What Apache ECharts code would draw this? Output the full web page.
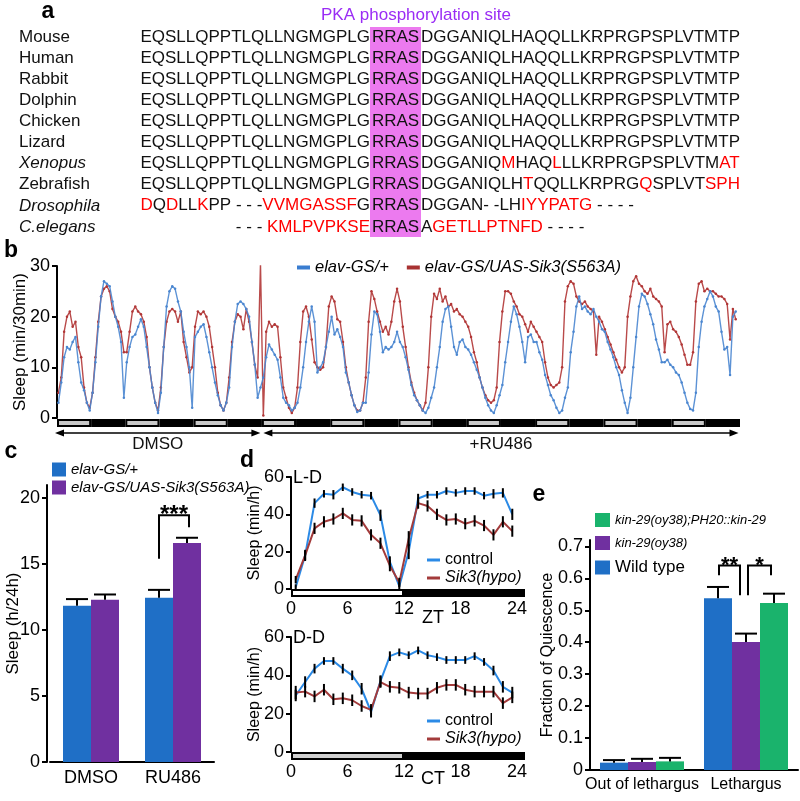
<!DOCTYPE html>
<html><head><meta charset="utf-8">
<script src="https://cdn.jsdelivr.net/npm/echarts@6/dist/echarts.min.js"></script>
<style>html,body{margin:0;padding:0;background:#fff}#c{width:800px;height:801px}</style>
</head><body><div id="c"></div><script>
const FONT = '"Liberation Sans", Arial, Helvetica, sans-serif';

// ---------- Panel a : alignment ----------
const species = ['Mouse','Human','Rabbit','Dolphin','Chicken','Lizard','Xenopus','Zebrafish','Drosophila','C.elegans'];
const speciesItalic = [false,false,false,false,false,false,true,false,true,true];
const seqBefore = [
  'EQSLLQPPTLQLLNGMGPLG','EQSLLQPPTLQLLNGMGPLG','EQSLLQPPTLQLLNGMGPLG','EQSLLQPPTLQLLNGMGPLG',
  'EQSLLQPPTLQLLNGMGPLG','EQSLLQPPTLQLLNGMGPLG','EQSLLQPPTLQLLNGMGPLG','EQSLLQPPTLQLLNGMGPLG',
  '[D]Q[D]LL[K]PP - - -[VVMGASSF]G','- - - [KMLPVPKSE]'
];
const seqSite = ['RRAS','RRAS','RRAS','RRAS','RRAS','RRAS','RRAS','RRAS','RRAS','RRAS'];
const seqAfter = [
  'DGGANIQLHAQQLLKRPRGPSPLVTMTP','DGGANIQLHAQQLLKRPRGPSPLVTMTP','DGGANIQLHAQQLLKRPRGPSPLVTMTP',
  'DGGANIQLHAQQLLKRPRGPSPLVTMTP','DGGANIQLHAQQLLKRPRGPSPLVTMTP','DGGANIQLHAQQLLKRPRGPSPLVTMTP',
  'DGGANIQ[M]HAQ[L]LLKRPRGPSPLVTM[AT]','DGGANIQLH[T]QQLLKRPRG[Q]SPLVT[SPH]',
  'DGGAN- -LH[IYYPATG] - - - -','A[GETLLPTNFD] - - - -'
];
const siteTitle = 'PKA phosphorylation site';

// ---------- Panel b : hourly sleep (min/30min) over 10 days ----------
const bControl = [
  3,7,12,14,13.5,15,16,11,7,5.5,3,1.5, 5,11,18,24,27,26.5,26,23,20,18,15,4,
  11,14,16,16.5,18,19.5,18,14,10,6,3,1, 5,14,22,25,26,25.5,23,21,17,14,10,2,
  16,17,18,18.5,16,13,10,7,4.5,2.5,1.5,3, 6,14,19,22.5,23,22.5,21.5,20,15,10.5,4,6,
  8,12,14.5,13.5,12.5,11.5,8,4,3,2.5,1.5,2, 3,6,10,15,19,22,19,9,10,11,14,17,
  20,16.5,17.5,16,14,9,7,4.5,2.5,1.2,1.5,3, 3,9,16.5,21,20.5,17,13,14,13.5,14,15,17,
  15,14,12,9.5,6.5,4.5,3.5,2.5,1.5,1,2,4, 6,10,14,19,21.5,22,18,14,12.5,15,15.5,14,
  13.5,12.5,11,9.5,8,6,4,2.5,1.5,1,2.5,4.5, 6.5,11,15,19,22,20.5,18,15,11,16,16.5,15,
  15,13,11.5,8.5,6.5,4.5,3.5,2,1,1.5,4,6, 13,17,22,24,21.5,22,21,20.5,21.5,20,19,17.5,
  17,15,13.5,12,10,8.5,5.5,3,1,4,10,16, 22,24.5,24,22.5,20.5,18.5,15.5,13.5,11,11,11.5,10.5,
  10,9,8.5,7,5,3,1.8,1.5,5,14,19,22, 23.5,25,24,22,21,17,13.5,14,8.5,20,21,null
];
const bS563A = [
  5,8,17,20,21,18,19,14,12,6,3,2, 5,12,19,24,25.5,26,25,21.5,20,19,17,13,
  13,17,21,22,21,20.5,19,16,10,6,3,1.5, 6,14,19,21,21.5,21,19,21,15,12,9,10,
  18,21,20.5,21,20,18,14,10,5,2.5,1.5,3, 8,15,19,20.5,20,17.5,21.5,19,15,10.5,8,30.5,
  0.5,17,19,18,18.5,18,12,6,4,2,1,2, 6,15,21,22,20,15.5,11,10,9.5,10,14,22,
  24,23,19.5,19,15,10,7,4.5,2.5,1.5,1.5,3, 8,19,25,23.5,21,19,17,18,16.5,19,23,25.5,
  23,18,14,10,7,5,3.5,2.5,1.5,3,10,20, 24.5,23.5,25.5,23,24,22,22.5,21,21.5,20.5,20,19,
  18,16,13,11,8,6,4.5,3.5,3,3.5,6,15, 21,25,25,24.5,23,22,20.5,20,18.5,17,19,18,
  17,16,15,11,8,6.5,6,6.5,7,10,23,26, 27,26.5,24,23,22.5,23,22,21.5,21,12.5,20,19,
  17.5,16,14.5,13,11.5,10,9,10,20,24,27,28, 26.5,26,25,24.5,25.5,24,23.5,23,22,13,18.5,19,
  17.5,17,16,14.5,12.5,10.5,10.5,13,23,26.5,27,25, 25.5,25,25,24.5,24,24,23.5,22.5,15.5,21.5,19.5,null
];
// [start hour, end hour, 1 = light / 0 = dark]
const bSchedule = [
  [0,12,1],[12,24,0],[24,36,1],[36,48,0],[48,60,1],[60,72,0],[72,84,1],[84,96,0],[96,108,1],[108,120,0],
  [120,132,1],[132,144,0],[144,156,1],[156,168,0],[168,180,1],[180,192,0],[192,204,1],[204,216,0],[216,228,1],[228,240,0]
];
const bTreatments = ['DMSO','+RU486'];
const bTreatmentSpans = [[0,72],[72,240]];
const bSeriesNames = ['elav-GS/+','elav-GS/UAS-Sik3(S563A)'];

// ---------- Panel c ----------
const cCategories = ['DMSO','RU486'];
const cControl = [11.85, 12.45];
const cControlTop = [12.35, 13.05];
const cS563A = [12.3, 16.6];
const cS563ATop = [12.7, 17.0];
const cYTicks = [0,5,10,15,20];
// [category, left bar, right bar, bracket top, left leg end, right leg end]
const cBrackets = [[1,0,1,18.7,15.4,17.8]];
const cBracketLabels = ['***'];

// ---------- Panel d ----------
const dHours = [0.5,1.5,2.5,3.5,4.5,5.5,6.5,7.5,8.5,9.5,10.5,11.5,12.5,13.5,14.5,15.5,16.5,17.5,18.5,19.5,20.5,21.5,22.5,23.5];
const dLDControl = [1,18,46,51,50.5,54.5,52,50.5,50,39.5,14.5,1.5,20,48.5,50.5,50.5,52.5,51.5,52.5,52.5,50,51,51.5,40];
const dLDControlErr = [1.5,2.5,2.5,2,2.5,2,2,2,2,3,3,2,4,2.5,2,2,2,2,2,2,2,2.5,2.5,3];
const dLDSik3 = [5,18,32.5,36,37.5,40.5,37,36.5,29,24.5,12.5,3.5,27,46,44.5,40,37,37.5,35,36.5,34,29,36,31];
const dLDSik3Err = [2,3,3,3,3,3,3,3,3,3,3,2.5,4,3,3,3,3,3,3,3,3,3,3,3];
const dDDControl = [29.5,36.5,43.5,47.5,47.5,43.5,40,33,21,37,50,52,50.5,53,50.5,49.5,48,48,48,50,47,42.5,34,31];
const dDDControlErr = [3,3,2.5,2,2,2.5,2.5,3,3,3,2.5,2,2,2,2,2,2,2,2,2,2,2.5,3,3];
const dDDSik3 = [31,31.5,29,32.5,27.5,28,27,24,22,36.5,34,33.5,31,30.5,30.5,33.5,35,35,32.5,31.5,31.5,31.5,25.5,28.5];
const dDDSik3Err = [3.5,3,3,3,3,3,3,3,3,3,3,3,3,3,3,3,3,3,3,3,3,3,3,3];
const dLDSchedule = [[0,12,1],[12,24,0]];
const dDDSchedule = [[0,12,2],[12,24,0]];
const dYTicks = [0,20,40,60];

// ---------- Panel e ----------
const eCategories = ['Out of lethargus','Lethargus'];
const eWildType = [0.023, 0.538];
const eWildTypeTop = [0.031, 0.573];
const eKin29 = [0.025, 0.401];
const eKin29Top = [0.035, 0.427];
const eRescue = [0.027, 0.523];
const eRescueTop = [0.038, 0.552];
const eYTicks = [0,0.1,0.2,0.3,0.4,0.5,0.6,0.7];
const eBrackets = [[1,0,1,0.64,0.61,0.547],[1,1,2,0.64,0.547,0.61]];
const eBracketLabels = ['**','*'];

// ---------- styles ----------
const C = {
  bBlue:'#4a86d0', bRed:'#b13636', blue:'#1f6fc6', purple:'#7030a0', green:'#1ab36c',
  dBlue:'#2b8ae6', dRed:'#a33b3b', text:'#111'
};

function toRich(s){ return s.replace(/\[([^\]]+)\]/g, '{r|$1}'); }

function scheduleRenderer(fills, height, offset, extendRight){
  return function(params, api){
    const s = api.value(0), e = api.value(1), kind = api.value(2);
    const p1 = api.coord([s, 0]), p2 = api.coord([e, 0]);
    const last = params.dataIndex === params.dataInsideLength - 1;
    const x1 = p1[0], x2 = p2[0] + (last ? extendRight : 0);
    const y = p1[1] + offset;
    const ch = [{type:'rect', shape:{x:x1, y:y, width:x2-x1, height:height}, style:{fill:'#000'}}];
    if (fills[kind]) ch.push({type:'rect', shape:{x:x1+2, y:y+2, width:x2-x1-4, height:height-4}, style:{fill:fills[kind]}});
    return {type:'group', children:ch};
  };
}
function treatmentRenderer(labels){
  return function(params, api){
    const s = api.value(0), e = api.value(1);
    const y = api.coord([0,0])[1] + 15;
    const x1 = api.coord([s,0])[0] + (params.dataIndex === 0 ? -2 : 1.5);
    const x2 = api.coord([e,0])[0] - 1.5;
    return {type:'group', children:[
      {type:'line', shape:{x1:x1+5, y1:y, x2:x2-5, y2:y}, style:{stroke:'#000', lineWidth:1.5}},
      {type:'polygon', shape:{points:[[x1,y],[x1+9,y-3.5],[x1+9,y+3.5]]}, style:{fill:'#000'}},
      {type:'polygon', shape:{points:[[x2,y],[x2-9,y-3.5],[x2-9,y+3.5]]}, style:{fill:'#000'}},
      {type:'text', style:{text:labels[params.dataIndex], x:(x1+x2)/2, y:y+11, font:'17px '+FONT, fill:C.text,
        align:'center', textAlign:'center', verticalAlign:'middle', textVerticalAlign:'middle'}}
    ]};
  };
}
function catErrRenderer(nBars, barW, capW){
  return function(params, api){
    const cat = api.value(0), k = api.value(1), v = api.value(2), top = api.value(3);
    const pb = api.coord([cat, v]), pt = api.coord([cat, top]);
    const x = pb[0] + (k - (nBars-1)/2) * barW;
    return {type:'group', children:[
      {type:'line', shape:{x1:x, y1:pb[1], x2:x, y2:pt[1]}, style:{stroke:'#000', lineWidth:2}},
      {type:'line', shape:{x1:x-capW/2, y1:pt[1], x2:x+capW/2, y2:pt[1]}, style:{stroke:'#000', lineWidth:2}}
    ]};
  };
}
function bracketRenderer(nBars, barW, labels, nudges, fontSize){
  return function(params, api){
    const i = params.dataIndex;
    const cat = api.value(0), kl = api.value(1), kr = api.value(2);
    const c = api.coord([cat, api.value(3)]);
    const xl = c[0] + (kl - (nBars-1)/2) * barW + nudges[i][0];
    const xr = c[0] + (kr - (nBars-1)/2) * barW + nudges[i][1];
    const yl = api.coord([cat, api.value(4)])[1], yr = api.coord([cat, api.value(5)])[1];
    return {type:'group', children:[
      {type:'polyline', shape:{points:[[xl,yl],[xl,c[1]],[xr,c[1]],[xr,yr]]}, style:{stroke:'#000', lineWidth:2, fill:null}},
      {type:'text', style:{text:labels[i], x:(xl+xr)/2, y:c[1], font:'bold '+fontSize+'px '+FONT, fill:'#000',
        align:'center', textAlign:'center', verticalAlign:'middle', textVerticalAlign:'middle'}}
    ]};
  };
}
function ptErrRenderer(){
  return function(params, api){
    const t = api.value(0), v = api.value(1), e = api.value(2);
    const a = api.coord([t, v - e]), b = api.coord([t, v + e]);
    return {type:'line', shape:{x1:a[0], y1:a[1], x2:b[0], y2:b[1]}, style:{stroke:'#000', lineWidth:2}};
  };
}

function yAxis(grid, min, max, interval, name, nameGap, ticks, nameSize){
  return {
    type:'value', gridIndex:grid, min:min, max:max, interval:interval,
    name:name, nameLocation:'middle', nameGap:nameGap, nameRotate:90, nameMoveOverlap:false,
    nameTextStyle:{fontSize:nameSize, color:'#000', fontFamily:FONT},
    axisLine:{show:true, lineStyle:{color:'#000', width:2}},
    axisTick:{show:true, inside:false, length:5, lineStyle:{color:'#000', width:2}, customValues:ticks},
    axisLabel:{color:'#000', fontSize:18, fontFamily:FONT, margin:7, customValues:ticks},
    splitLine:{show:false}
  };
}

const txt = (text, x, y, font, fill, align, extra) => ({type:'text', silent:true, style:Object.assign({
  text:text, x:x, y:y, font:font, fill:fill || C.text, align:align || 'left', textAlign:align || 'left',
  verticalAlign:'middle', textVerticalAlign:'middle'}, extra || {})});

// ---------- graphic (panel a + labels) ----------
const seqFont = '17px ' + FONT;
const rich = { r:{ fill:'#ff0000', color:'#ff0000', font:seqFont, fontSize:17, fontFamily:FONT } };
const graphic = [];
graphic.push({type:'rect', silent:true, shape:{x:370, y:27, width:51, height:210}, style:{fill:'#ec7aef'}});
graphic.push(txt(siteTitle, 416, 15, seqFont, '#9a2cf5', 'center'));
species.forEach((sp, i) => {
  const y = 37 + i * 21.1;
  graphic.push(txt(sp, 19, y, (speciesItalic[i] ? 'italic ' : '') + seqFont, C.text, 'left'));
  graphic.push(txt(toRich(seqBefore[i]), 370, y, seqFont, C.text, 'right', {rich:rich}));
  graphic.push(txt(seqSite[i], 395.5, y, seqFont, C.text, 'center'));
  graphic.push(txt(toRich(seqAfter[i]), 421, y, seqFont, C.text, 'left', {rich:rich}));
});
const labelFont = 'bold 23px ' + FONT;
graphic.push(txt('a', 48, 12, labelFont, '#000', 'center'));
graphic.push(txt('b', 11, 251, labelFont, '#000', 'center'));
graphic.push(txt('c', 11, 452, labelFont, '#000', 'center'));
graphic.push(txt('d', 247, 461, labelFont, '#000', 'center'));
graphic.push(txt('e', 539, 495, labelFont, '#000', 'center'));
graphic.push(txt('L-D', 293, 478, '18px '+FONT, '#000', 'left'));
graphic.push(txt('D-D', 293, 638, '18px '+FONT, '#000', 'left'));
graphic.push(txt('ZT', 433, 618, '18px '+FONT, '#000', 'center'));
graphic.push(txt('CT', 433, 779, '18px '+FONT, '#000', 'center'));

const legendText = (size, italic) => ({fontSize:size, fontStyle: italic ? 'italic' : 'normal', color:'#000', fontFamily:FONT, lineHeight:size});

const option = {
  animation:false,
  backgroundColor:'#fff',
  textStyle:{fontFamily:FONT},
  grid:[
    {left:57, top:266, width:683, height:152, outerBoundsMode:'none'},
    {left:50, top:485, width:164, height:277, outerBoundsMode:'none'},
    {left:291, top:477, width:226, height:112, outerBoundsMode:'none'},
    {left:291, top:637, width:226, height:115, outerBoundsMode:'none'},
    {left:590, top:540, width:208, height:230, outerBoundsMode:'none'}
  ],
  xAxis:[
    {type:'value', gridIndex:0, min:0, max:240, show:false},
    {type:'category', gridIndex:1, data:cCategories, axisLine:{lineStyle:{color:'#000', width:2}}, axisTick:{show:false},
      axisLabel:{color:'#000', fontSize:18, fontFamily:FONT, margin:7, interval:0}},
    {type:'value', gridIndex:2, min:0, max:24, interval:6, axisLine:{show:false}, axisTick:{show:false}, splitLine:{show:false},
      axisLabel:{color:'#000', fontSize:18, fontFamily:FONT, margin:11}},
    {type:'value', gridIndex:3, min:0, max:24, interval:6, axisLine:{show:false}, axisTick:{show:false}, splitLine:{show:false},
      axisLabel:{color:'#000', fontSize:18, fontFamily:FONT, margin:11}},
    {type:'category', gridIndex:4, data:eCategories, axisLine:{lineStyle:{color:'#000', width:2}}, axisTick:{show:false},
      axisLabel:{color:'#000', fontSize:16, fontFamily:FONT, margin:7, interval:0, hideOverlap:false}}
  ],
  yAxis:[
    yAxis(0, 0, 30, 10, 'Sleep (min/30min)', 28, [0,10,20,30], 17),
    Object.assign(yAxis(1, 0, 21, 5, 'Sleep (h/24h)', 25, cYTicks, 17), {offset:3}),
    yAxis(2, 0, 60, 20, 'Sleep (min/h)', 28, dYTicks, 16),
    yAxis(3, 0, 60, 20, 'Sleep (min/h)', 28, dYTicks, 16),
    yAxis(4, 0, 0.72, 0.1, 'Fraction of Quiescence', 34, eYTicks, 16)
  ],
  legend:[
    {left:297, top:259, orient:'horizontal', padding:0, itemWidth:13, itemHeight:4, itemGap:18, icon:'rect', selectedMode:false,
      textStyle:legendText(16.5, true),
      data:[{name:bSeriesNames[0], itemStyle:{color:'#3a7dd0', borderWidth:0}}, {name:bSeriesNames[1], itemStyle:{color:'#a83232', borderWidth:0}}]},
    {left:52, top:462, orient:'vertical', padding:0, itemWidth:14, itemHeight:14, itemGap:3, icon:'rect', selectedMode:false,
      textStyle:legendText(15, true),
      data:[{name:bSeriesNames[0], itemStyle:{color:C.blue, borderWidth:0}}, {name:bSeriesNames[1], itemStyle:{color:C.purple, borderWidth:0}}]},
    {left:427, top:552, orient:'vertical', padding:0, itemWidth:13, itemHeight:3, itemGap:2, icon:'rect', selectedMode:false,
      textStyle:legendText(16, false),
      data:[{name:'control', itemStyle:{color:C.dBlue, borderWidth:0}}, {name:'Sik3(hypo)', itemStyle:{color:C.dRed, borderWidth:0}, textStyle:{fontStyle:'italic'}}]},
    {left:427, top:713, orient:'vertical', padding:0, itemWidth:13, itemHeight:3, itemGap:2, icon:'rect', selectedMode:false,
      textStyle:legendText(16, false),
      data:[{name:'control', itemStyle:{color:C.dBlue, borderWidth:0}}, {name:'Sik3(hypo)', itemStyle:{color:C.dRed, borderWidth:0}, textStyle:{fontStyle:'italic'}}]},
    {left:595, top:513, orient:'vertical', padding:0, itemWidth:15, itemHeight:14, itemGap:9, icon:'rect', selectedMode:false,
      textStyle:legendText(13, true),
      data:[{name:'kin-29(oy38);PH20::kin-29', itemStyle:{color:C.green, borderWidth:0}},
            {name:'kin-29(oy38)', itemStyle:{color:C.purple, borderWidth:0}},
            {name:'Wild type', itemStyle:{color:C.blue, borderWidth:0}, textStyle:{fontSize:17, fontStyle:'normal', lineHeight:17}}]}
  ],
  series:[
    // panel b
    {type:'line', name:bSeriesNames[1], xAxisIndex:0, yAxisIndex:0, data:bS563A.map((v,i)=>[i+0.5, v]),
      lineStyle:{color:C.bRed, width:1.4, opacity:0.9}, itemStyle:{color:C.bRed}, symbol:'circle', symbolSize:2.5, showSymbol:true, z:3},
    {type:'line', name:bSeriesNames[0], xAxisIndex:0, yAxisIndex:0, data:bControl.map((v,i)=>[i+0.5, v]),
      lineStyle:{color:C.bBlue, width:1.4, opacity:0.9}, itemStyle:{color:C.bBlue}, symbol:'circle', symbolSize:2.5, showSymbol:true, z:4},
    {type:'custom', xAxisIndex:0, yAxisIndex:0, data:bSchedule, silent:true, clip:false, encode:{x:[0,1]},
      renderItem:scheduleRenderer({1:'#c8c8c8'}, 8, 1, 0)},
    {type:'custom', xAxisIndex:0, yAxisIndex:0, data:bTreatmentSpans, silent:true, clip:false, encode:{x:[0,1]},
      renderItem:treatmentRenderer(bTreatments)},
    // panel c
    {type:'bar', name:bSeriesNames[0], xAxisIndex:1, yAxisIndex:1, data:cControl, barWidth:28, barGap:'0%', itemStyle:{color:C.blue}},
    {type:'bar', name:bSeriesNames[1], xAxisIndex:1, yAxisIndex:1, data:cS563A, barWidth:28, barGap:'0%', itemStyle:{color:C.purple}},
    {type:'custom', xAxisIndex:1, yAxisIndex:1, silent:true, clip:false, encode:{x:0, y:[2,3]}, z:5,
      data:cControl.map((v,i)=>[i,0,v,cControlTop[i]]).concat(cS563A.map((v,i)=>[i,1,v,cS563ATop[i]])),
      renderItem:catErrRenderer(2, 28, 22)},
    {type:'custom', xAxisIndex:1, yAxisIndex:1, silent:true, clip:false, encode:{x:0, y:3}, z:5, data:cBrackets,
      renderItem:bracketRenderer(2, 28, cBracketLabels, [[0,2]], 24)},
    // panel d top
    {type:'line', name:'control', xAxisIndex:2, yAxisIndex:2, data:dHours.map((t,i)=>[t, dLDControl[i]]),
      lineStyle:{color:C.dBlue, width:2}, itemStyle:{color:C.dBlue}, showSymbol:false, z:3},
    {type:'line', name:'Sik3(hypo)', xAxisIndex:2, yAxisIndex:2, data:dHours.map((t,i)=>[t, dLDSik3[i]]),
      lineStyle:{color:C.dRed, width:2}, itemStyle:{color:C.dRed}, showSymbol:false, z:3},
    {type:'custom', xAxisIndex:2, yAxisIndex:2, silent:true, clip:false, z:5, encode:{x:0, y:1},
      data:dHours.map((t,i)=>[t, dLDControl[i], dLDControlErr[i]]).concat(dHours.map((t,i)=>[t, dLDSik3[i], dLDSik3Err[i]])),
      renderItem:ptErrRenderer()},
    {type:'custom', xAxisIndex:2, yAxisIndex:2, data:dLDSchedule, silent:true, clip:false, encode:{x:[0,1]},
      renderItem:scheduleRenderer({1:'#ffffff'}, 8, 0, 8)},
    // panel d bottom
    {type:'line', name:'control', xAxisIndex:3, yAxisIndex:3, data:dHours.map((t,i)=>[t, dDDControl[i]]),
      lineStyle:{color:C.dBlue, width:2}, itemStyle:{color:C.dBlue}, showSymbol:false, z:3},
    {type:'line', name:'Sik3(hypo)', xAxisIndex:3, yAxisIndex:3, data:dHours.map((t,i)=>[t, dDDSik3[i]]),
      lineStyle:{color:C.dRed, width:2}, itemStyle:{color:C.dRed}, showSymbol:false, z:3},
    {type:'custom', xAxisIndex:3, yAxisIndex:3, silent:true, clip:false, z:5, encode:{x:0, y:1},
      data:dHours.map((t,i)=>[t, dDDControl[i], dDDControlErr[i]]).concat(dHours.map((t,i)=>[t, dDDSik3[i], dDDSik3Err[i]])),
      renderItem:ptErrRenderer()},
    {type:'custom', xAxisIndex:3, yAxisIndex:3, data:dDDSchedule, silent:true, clip:false, encode:{x:[0,1]},
      renderItem:scheduleRenderer({2:'#d0d0d0'}, 8, 0, 8)},
    // panel e
    {type:'bar', name:'Wild type', xAxisIndex:4, yAxisIndex:4, data:eWildType, barWidth:28, barGap:'0%', itemStyle:{color:C.blue}},
    {type:'bar', name:'kin-29(oy38)', xAxisIndex:4, yAxisIndex:4, data:eKin29, barWidth:28, barGap:'0%', itemStyle:{color:C.purple}},
    {type:'bar', name:'kin-29(oy38);PH20::kin-29', xAxisIndex:4, yAxisIndex:4, data:eRescue, barWidth:28, barGap:'0%', itemStyle:{color:C.green}},
    {type:'custom', xAxisIndex:4, yAxisIndex:4, silent:true, clip:false, encode:{x:0, y:[2,3]}, z:5,
      data:eWildType.map((v,i)=>[i,0,v,eWildTypeTop[i]]).concat(eKin29.map((v,i)=>[i,1,v,eKin29Top[i]]), eRescue.map((v,i)=>[i,2,v,eRescueTop[i]])),
      renderItem:catErrRenderer(3, 28, 22)},
    {type:'custom', xAxisIndex:4, yAxisIndex:4, silent:true, clip:false, encode:{x:0, y:3}, z:5, data:eBrackets,
      renderItem:bracketRenderer(3, 28, eBracketLabels, [[1,-6],[2,-3]], 22)}
  ],
  graphic:graphic
};

const chart = echarts.init(document.getElementById('c'), null, {renderer:'canvas', width:800, height:801});
chart.setOption(option);
</script></body></html>
